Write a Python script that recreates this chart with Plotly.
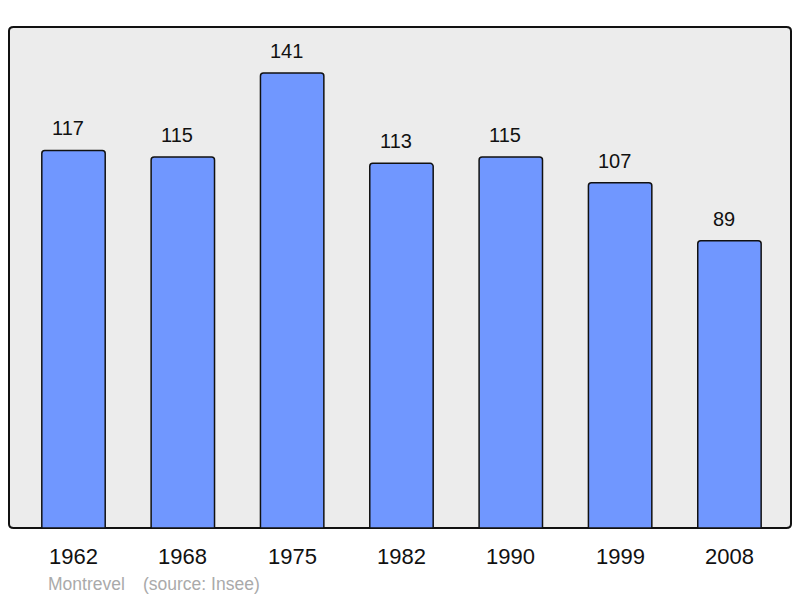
import plotly.graph_objects as go

years = ["1962", "1968", "1975", "1982", "1990", "1999", "2008"]
population = [117, 115, 141, 113, 115, 107, 89]
commune = "Montrevel"
source = "(source: Insee)"

xpos = list(range(len(years)))

fig = go.Figure()
fig.add_trace(go.Bar(
    x=xpos, y=population, width=0.58,
    marker=dict(color="#7097ff", line=dict(color="#111111", width=1.5), cornerradius=3),
    hoverinfo="skip",
))

for xi, v in zip(xpos, population):
    fig.add_annotation(x=xi, y=v, text=str(v), showarrow=False, yanchor="middle",
                       yshift=22, xshift=-5.5, font=dict(size=20, color="#111111"))

for xi, lab in zip(xpos, years):
    fig.add_annotation(x=xi, y=0, yref="paper", text=lab, showarrow=False,
                       yanchor="middle", yshift=-28.5, font=dict(size=22, color="#111111"))

# rounded frame
fig.add_shape(type="path", xref="paper", yref="paper", layer="below",
              path="M 0.006 0 L 0.994 0 Q 1 0 1 0.008 L 1 0.992 Q 1 1 0.994 1 L 0.006 1 Q 0 1 0 0.992 L 0 0.008 Q 0 0 0.006 0 Z",
              fillcolor="#ececec", line=dict(color="#111111", width=2))

fig.add_annotation(xref="paper", yref="paper", x=0, y=0, xshift=37, yshift=-56,
                   xanchor="left", yanchor="middle", text=commune, showarrow=False,
                   font=dict(size=17.5, color="#aaaaaa"))
fig.add_annotation(xref="paper", yref="paper", x=0, y=0, xshift=132, yshift=-56,
                   xanchor="left", yanchor="middle", text=source, showarrow=False,
                   font=dict(size=17.5, color="#aaaaaa"))

fig.update_layout(
    width=800, height=598,
    margin=dict(l=9, r=9, t=27, b=70),
    paper_bgcolor="white", plot_bgcolor="rgba(0,0,0,0)",
    font=dict(family="Liberation Sans, Arial, sans-serif"),
    showlegend=False,
    xaxis=dict(range=[-0.59, 6.563], showgrid=False, zeroline=False, showline=False,
               showticklabels=False, ticks=""),
    yaxis=dict(range=[0, 155.25], showgrid=False, zeroline=False, showline=False,
               showticklabels=False, ticks=""),
)
fig.write_html("out.html", config={"displayModeBar": False},
               post_script="document.body.style.margin='0';document.body.style.overflow='hidden';")
